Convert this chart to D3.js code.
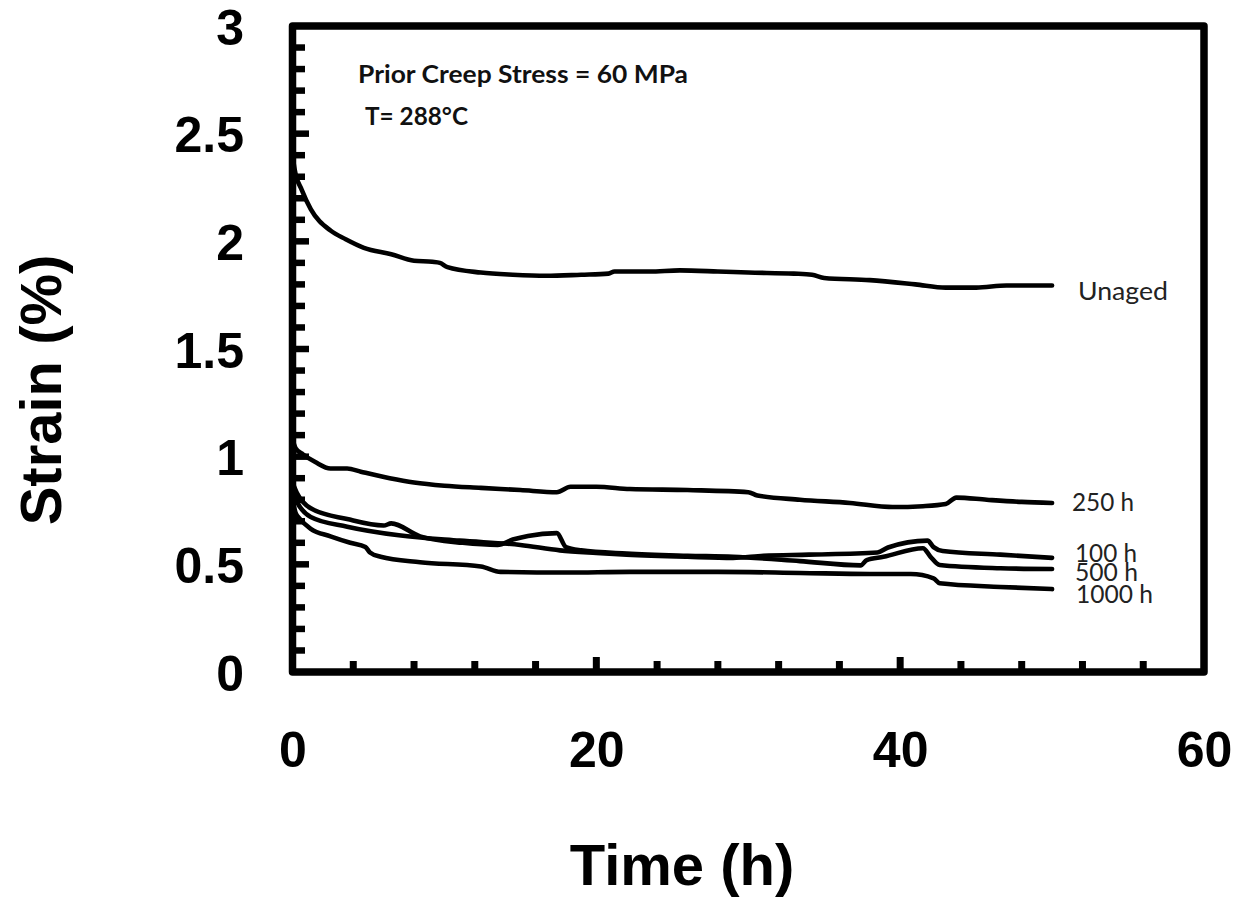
<!DOCTYPE html>
<html>
<head>
<meta charset="utf-8">
<script src="https://cdn.jsdelivr.net/npm/d3@7"></script>
<style>
  html, body { margin: 0; padding: 0; background: #fff; }
  svg { display: block; }
</style>
</head>
<body>
<svg id="chart" width="1241" height="898"></svg>
<script>
// Strain recovery after prior creep at 60 MPa, 288 °C — time (h) vs strain (%)
const xTickLabels = [0, 20, 40, 60];
const yTickLabels = [0, 0.5, 1, 1.5, 2, 2.5, 3];

const seriesNames = ["Unaged", "250 h", "100 h", "500 h", "1000 h"];

const unaged = [
  [0, 2.40], [0.15, 2.33], [0.6, 2.24], [1.2, 2.15], [2.5, 2.05], [3.5, 2.01],
  [4.7, 1.97], [6.5, 1.94], [8, 1.91], [9.2, 1.905], [9.7, 1.90], [10.2, 1.88],
  [12.4, 1.855], [14.5, 1.845], [16.7, 1.84], [19, 1.845], [20.8, 1.85],
  [21.2, 1.86], [23.5, 1.86], [25.5, 1.865], [28, 1.86], [30, 1.855],
  [33, 1.85], [34.2, 1.845], [35, 1.83], [38, 1.82], [41, 1.80], [43, 1.785],
  [45, 1.785], [47, 1.795], [50, 1.795]
];

const aged250 = [
  [0, 1.08], [0.2, 1.04], [0.7, 1.01], [1.5, 0.975], [2.5, 0.945], [3.6, 0.945],
  [4.5, 0.93], [6.4, 0.90], [8, 0.88], [10, 0.865], [12.4, 0.855], [15, 0.845],
  [17.4, 0.835], [18.3, 0.86], [20, 0.86], [22.2, 0.85], [26, 0.845],
  [30, 0.835], [30.6, 0.82], [33.4, 0.80], [36.7, 0.785], [39.5, 0.766],
  [41.5, 0.77], [43, 0.78], [43.7, 0.81], [45.7, 0.80], [48, 0.79], [50, 0.785]
];

const aged100 = [
  [0, 0.84], [0.3, 0.79], [1.2, 0.72], [3.6, 0.675], [7, 0.635], [11, 0.61],
  [15, 0.59], [17.6, 0.565], [20, 0.553], [22, 0.545], [26, 0.535], [29, 0.53],
  [31, 0.54], [34, 0.545], [38.5, 0.555], [39.2, 0.578], [41.8, 0.61],
  [42.2, 0.58], [42.8, 0.562], [46.6, 0.545], [50, 0.53]
];

const aged500 = [
  [0, 0.88], [0.3, 0.83], [1.2, 0.76], [3.6, 0.71], [6, 0.68], [6.5, 0.69],
  [8.4, 0.63], [11.2, 0.60], [13.5, 0.59], [14.5, 0.615], [15.5, 0.632],
  [17.4, 0.645], [18, 0.58], [19, 0.565], [22, 0.55], [26, 0.54], [29, 0.535],
  [33.4, 0.515], [37.4, 0.495], [37.8, 0.52], [38.9, 0.535], [41.5, 0.575],
  [42, 0.535], [42.6, 0.497], [46.6, 0.482], [50, 0.478]
];

const aged1000 = [
  [0, 0.80], [0.2, 0.74], [0.5, 0.71], [1.2, 0.665], [2.5, 0.63], [3.8, 0.60],
  [4.8, 0.58], [5.1, 0.555], [5.8, 0.535], [8.4, 0.51], [12.4, 0.49],
  [13.7, 0.465], [18, 0.462], [22.2, 0.465], [28, 0.465], [33.4, 0.46],
  [38, 0.455], [40.7, 0.455], [42.2, 0.435], [42.6, 0.412], [46.6, 0.395],
  [50, 0.385]
];

const seriesData = [unaged, aged250, aged100, aged500, aged1000];

const svg = d3.select("#chart");

const x = d3.scaleLinear().domain([0, 60]).range([292.5, 1204]);
const y = d3.scaleLinear().domain([0, 3]).range([672, 26]);

const ink = "#000";
const frameW = 7.5;

// curves
const line = d3.line().x(d => x(d[0])).y(d => y(d[1])).curve(d3.curveMonotoneX);
svg.append("g").selectAll("path").data(seriesData).join("path")
  .attr("d", line)
  .attr("fill", "none")
  .attr("stroke", ink)
  .attr("stroke-width", 4.6)
  .attr("stroke-linejoin", "round")
  .attr("stroke-linecap", "round");

// inward ticks on the bottom edge: minor every 4 h, major every 20 h
const xMinor = d3.range(4, 60, 4);
svg.append("g").selectAll("line").data(xMinor).join("line")
  .attr("x1", d => x(d)).attr("x2", d => x(d))
  .attr("y1", y(0)).attr("y2", d => y(0) - (d % 20 === 0 ? 15 : 11))
  .attr("stroke", ink).attr("stroke-width", 7);

// inward ticks on the left edge: minor every 0.1 %, major every 0.5 %
const yMinor = d3.range(1, 30).map(i => i / 10);
svg.append("g").selectAll("line").data(yMinor).join("line")
  .attr("x1", x(0)).attr("x2", (d, i) => x(0) + ((i + 1) % 5 === 0 ? 16.5 : 12.5))
  .attr("y1", d => y(d)).attr("y2", d => y(d))
  .attr("stroke", ink).attr("stroke-width", 6.5);

// plot frame
svg.append("rect")
  .attr("x", x(0)).attr("y", y(3))
  .attr("width", x(60) - x(0)).attr("height", y(0) - y(3))
  .attr("fill", "none").attr("stroke", ink)
  .attr("stroke-width", frameW).attr("stroke-linejoin", "round");

// tick labels
const tickFont = "'Liberation Sans', Arial, sans-serif";
const xAxis = d3.axisBottom(x).tickValues(xTickLabels).tickSize(0).tickPadding(59.5)
  .tickFormat(d3.format("d"));
const gx = svg.append("g").attr("transform", `translate(0,${y(0)})`).call(xAxis);
gx.select(".domain").remove();
gx.selectAll("text").attr("font-family", tickFont).attr("font-size", 50)
  .attr("font-weight", "bold").attr("fill", ink);

const yAxis = d3.axisLeft(y).tickValues(yTickLabels).tickSize(0).tickPadding(48.5)
  .tickFormat(d => String(d));
const gy = svg.append("g").attr("transform", `translate(${x(0)},0)`).call(yAxis);
gy.select(".domain").remove();
gy.selectAll("text").attr("font-family", tickFont).attr("font-size", 50)
  .attr("font-weight", "bold").attr("fill", ink).attr("dy", "0.36em");

// axis titles
svg.append("text")
  .attr("x", 682).attr("y", 885)
  .attr("text-anchor", "middle")
  .attr("font-family", tickFont).attr("font-size", 58).attr("font-weight", "bold")
  .attr("fill", ink)
  .text("Time (h)");

svg.append("text")
  .attr("transform", "translate(61,390) rotate(-90)")
  .attr("text-anchor", "middle")
  .attr("font-family", tickFont).attr("font-size", 58).attr("font-weight", "bold")
  .attr("fill", ink)
  .text("Strain (%)");

// test conditions
const noteFont = "Lato, 'Open Sans', sans-serif";
svg.append("text")
  .attr("x", 358).attr("y", 83)
  .attr("font-family", noteFont).attr("font-size", 24).attr("font-weight", "bold")
  .attr("textLength", 330).attr("lengthAdjust", "spacingAndGlyphs")
  .attr("fill", "#111")
  .text("Prior Creep Stress = 60 MPa");
svg.append("text")
  .attr("x", 365).attr("y", 125)
  .attr("font-family", noteFont).attr("font-size", 24).attr("font-weight", "bold")
  .attr("textLength", 103).attr("lengthAdjust", "spacingAndGlyphs")
  .attr("fill", "#111")
  .text("T= 288°C");

// series labels at the curve ends
const labelPos = [
  { x: 1078, y: 300, w: 90 },
  { x: 1072, y: 511, w: 62 },
  { x: 1075, y: 562, w: 62 },
  { x: 1075, y: 581, w: 63 },
  { x: 1076, y: 603, w: 77 }
];
svg.append("g").selectAll("text").data(seriesNames).join("text")
  .attr("x", (d, i) => labelPos[i].x)
  .attr("y", (d, i) => labelPos[i].y)
  .attr("font-family", noteFont).attr("font-size", 25)
  .attr("textLength", (d, i) => labelPos[i].w).attr("lengthAdjust", "spacingAndGlyphs")
  .attr("fill", "#222")
  .text(d => d);
</script>
</body>
</html>
